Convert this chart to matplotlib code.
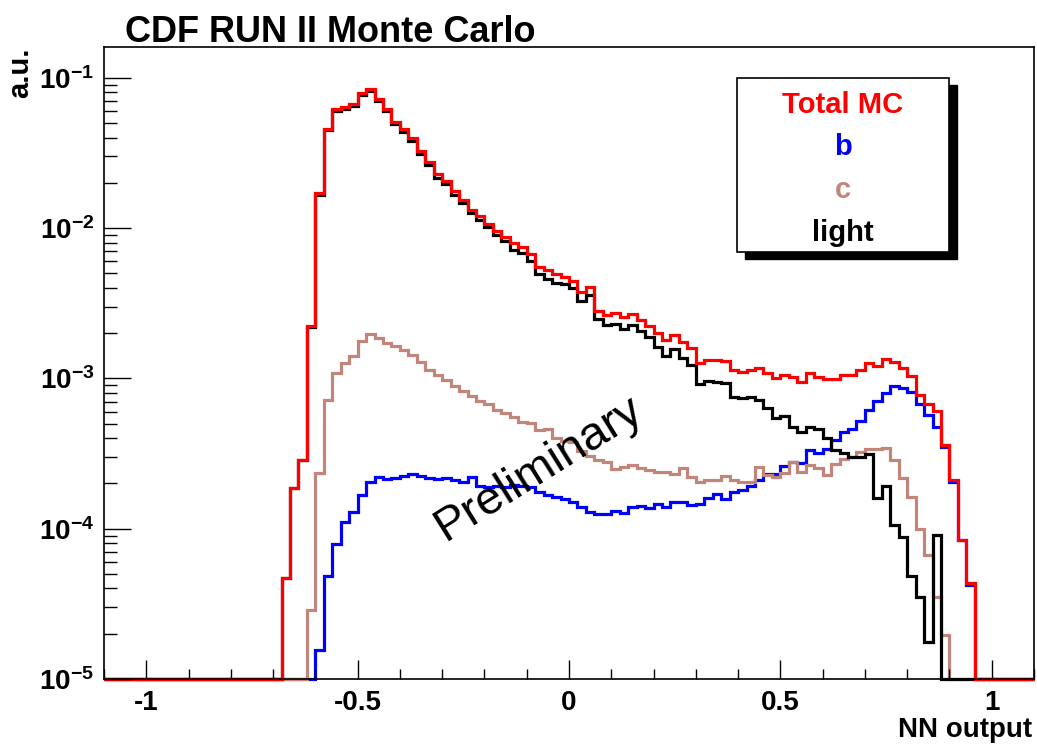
import matplotlib.pyplot as plt
import numpy as np
from matplotlib.patches import Rectangle
from matplotlib.ticker import MultipleLocator, LogLocator, NullFormatter

plt.rcParams['font.family'] = ['Liberation Sans', 'DejaVu Sans']
plt.rcParams['mathtext.fontset'] = 'custom'
plt.rcParams['mathtext.rm'] = 'Liberation Sans'
plt.rcParams['mathtext.bf'] = 'Liberation Sans:bold'

# NN output histograms: 110 bins of width 0.02 on [-1.1, 1.1]
edges = np.linspace(-1.1, 1.1, 111)
first_bin = 21  # bin starting at -0.68; lists below run from -0.68 to 0.94

total_mc = [
    4.70e-5, 1.87e-4, 2.86e-4, 2.23e-3, 0.0171,
    0.0459, 0.0615, 0.0640, 0.0673, 0.0785,
    0.0835, 0.0716, 0.0615, 0.0508, 0.0453,
    0.0394, 0.0326, 0.0275, 0.0227, 0.0206,
    0.0176, 0.0153, 0.0132, 0.0120, 0.0107,
    0.00953, 0.00873, 0.00791, 0.00750, 0.00667,
    0.00552, 0.00525, 0.00491, 0.00474, 0.00444,
    0.00377, 0.00403, 0.00281, 0.00264, 0.00270,
    0.00257, 0.00267, 0.00244, 0.00224, 0.00199,
    0.00180, 0.00194, 0.00175, 0.00158, 0.00127,
    0.00132, 0.00133, 0.00130, 0.00114, 0.00111,
    0.00114, 0.00118, 0.00109, 0.00101, 0.00105,
    0.00102, 9.45e-4, 0.00108, 0.00102, 9.90e-4,
    9.90e-4, 0.00105, 0.00105, 0.00114, 0.00126,
    0.00121, 0.00134, 0.00129, 0.00118, 0.00104,
    7.74e-4, 6.71e-4, 6.07e-4, 3.60e-4, 2.11e-4,
    8.41e-5, 4.34e-5,
]

b_jets = [
    0, 0, 0, 0, 1.56e-5,
    4.85e-5, 7.91e-5, 1.10e-4, 1.30e-4, 1.67e-4,
    2.05e-4, 2.22e-4, 2.13e-4, 2.18e-4, 2.24e-4,
    2.30e-4, 2.25e-4, 2.16e-4, 2.13e-4, 2.17e-4,
    2.12e-4, 2.04e-4, 2.21e-4, 1.92e-4, 1.88e-4,
    1.92e-4, 1.88e-4, 1.95e-4, 1.92e-4, 1.88e-4,
    1.76e-4, 1.67e-4, 1.63e-4, 1.57e-4, 1.51e-4,
    1.39e-4, 1.30e-4, 1.25e-4, 1.25e-4, 1.32e-4,
    1.28e-4, 1.39e-4, 1.41e-4, 1.37e-4, 1.46e-4,
    1.40e-4, 1.50e-4, 1.51e-4, 1.44e-4, 1.46e-4,
    1.59e-4, 1.70e-4, 1.57e-4, 1.76e-4, 1.81e-4,
    1.92e-4, 2.11e-4, 2.31e-4, 2.31e-4, 2.61e-4,
    2.79e-4, 2.75e-4, 3.33e-4, 3.18e-4, 3.39e-4,
    3.89e-4, 4.42e-4, 4.58e-4, 5.20e-4, 6.15e-4,
    7.06e-4, 7.94e-4, 8.89e-4, 8.57e-4, 8.15e-4,
    6.70e-4, 5.70e-4, 4.78e-4, 3.48e-4, 2.05e-4,
    8.41e-5, 4.23e-5,
]

c_jets = [
    0, 0, 0, 2.88e-5, 2.33e-4,
    7.18e-4, 1.08e-3, 1.26e-3, 1.41e-3, 1.78e-3,
    1.96e-3, 1.85e-3, 1.73e-3, 1.65e-3, 1.54e-3,
    1.44e-3, 1.29e-3, 1.14e-3, 1.05e-3, 9.75e-4,
    8.89e-4, 8.24e-4, 7.62e-4, 7.10e-4, 6.75e-4,
    6.15e-4, 5.85e-4, 5.56e-4, 5.14e-4, 5.02e-4,
    4.53e-4, 4.57e-4, 3.99e-4, 3.83e-4, 3.79e-4,
    3.30e-4, 3.04e-4, 2.86e-4, 2.79e-4, 2.49e-4,
    2.57e-4, 2.65e-4, 2.54e-4, 2.46e-4, 2.37e-4,
    2.39e-4, 2.31e-4, 2.52e-4, 2.22e-4, 2.05e-4,
    2.11e-4, 2.11e-4, 2.24e-4, 2.11e-4, 2.05e-4,
    2.03e-4, 2.58e-4, 2.28e-4, 2.22e-4, 2.33e-4,
    2.79e-4, 2.39e-4, 2.65e-4, 2.52e-4, 2.26e-4,
    2.69e-4, 2.89e-4, 2.98e-4, 3.25e-4, 3.39e-4,
    3.39e-4, 3.43e-4, 2.86e-4, 2.18e-4, 1.63e-4,
    9.95e-5, 6.68e-5, 3.53e-5, 1.96e-5, 0,
    0, 0,
]

light_jets = [
    4.70e-5, 1.87e-4, 2.86e-4, 2.20e-3, 0.0166,
    0.0447, 0.0598, 0.0620, 0.0652, 0.0763,
    0.0815, 0.0697, 0.0597, 0.0491, 0.0437,
    0.0379, 0.0313, 0.0262, 0.0216, 0.0195,
    0.0166, 0.0146, 0.0125, 0.0113, 0.0102,
    0.00897, 0.00818, 0.00713, 0.00678, 0.00605,
    0.00491, 0.00455, 0.00428, 0.00422, 0.00397,
    0.00327, 0.00358, 0.00248, 0.00225, 0.00229,
    0.00212, 0.00226, 0.00206, 0.00188, 0.00162,
    0.00141, 0.00156, 0.00136, 0.00123, 9.16e-4,
    9.66e-4, 9.48e-4, 9.26e-4, 7.55e-4, 7.36e-4,
    7.48e-4, 7.18e-4, 6.35e-4, 5.45e-4, 5.66e-4,
    4.77e-4, 4.37e-4, 4.77e-4, 4.60e-4, 4.04e-4,
    3.33e-4, 3.17e-4, 2.98e-4, 2.98e-4, 3.14e-4,
    1.59e-4, 1.92e-4, 1.06e-4, 8.85e-5, 4.85e-5,
    3.50e-5, 1.75e-5, 9.08e-5, 0, 0,
    0, 0,
]

legend_labels = ['Total MC', 'b', 'c', 'light']
colors = {'Total MC': '#ff0000', 'b': '#0000ff', 'c': '#c2857a', 'light': '#000000'}
ymin, ymax = 1e-5, 0.16


def full_hist(vals):
    h = np.zeros(len(edges) - 1)
    h[first_bin:first_bin + len(vals)] = vals
    return h


W, H = 1037, 745


def px(x, y):
    """pixel position (from top-left) -> figure fraction"""
    return x / W, 1 - y / H


fig = plt.figure(figsize=(W / 100, H / 100), dpi=100)
ax = fig.add_axes([104 / W, 1 - 679 / H, 930 / W, 632 / H])
ax.set_yscale('log')

# empty bins sit on the frame floor, as ROOT draws them on a log axis
for name, vals in [('b', b_jets), ('c', c_jets), ('light', light_jets), ('Total MC', total_mc)]:
    h = np.clip(full_hist(vals), ymin, None)
    ax.stairs(h, edges, baseline=None, color=colors[name], linewidth=2.3, clip_on=False)

ax.set_xlim(-1.1, 1.1)
ax.set_ylim(ymin, ymax)

ax.set_xticks([-1, -0.5, 0, 0.5, 1], labels=['-1', '-0.5', '0', '0.5', '1'])
ax.xaxis.set_minor_locator(MultipleLocator(0.1))
decades = [1e-5, 1e-4, 1e-3, 1e-2, 1e-1]
ax.set_yticks(decades, labels=[r'$\mathbf{10^{%d}}$' % np.log10(d) for d in decades])
ax.yaxis.set_minor_locator(LogLocator(base=10, subs=np.arange(2, 10)))
ax.yaxis.set_minor_formatter(NullFormatter())

ax.tick_params(axis='both', which='both', direction='in', top=False, right=False, width=1.0)
ax.tick_params(axis='x', which='major', length=13.5, pad=8, labelsize=20)
ax.tick_params(axis='x', which='minor', length=7)
ax.tick_params(axis='y', which='major', length=19.5, pad=7, labelsize=20)
ax.tick_params(axis='y', which='minor', length=9.5)
for lab in ax.get_xticklabels():
    lab.set_fontweight('bold')
for sp in ax.spines.values():
    sp.set_linewidth(1.2)

fig.text(*px(125, 42), 'CDF RUN II Monte Carlo', fontsize=26, fontweight='bold',
         ha='left', va='baseline')
fig.text(*px(34, 47), 'a.u.', fontsize=21, fontweight='bold', rotation=90,
         ha='right', va='top')
fig.text(*px(1032, 737), 'NN output', fontsize=20, fontweight='bold',
         ha='right', va='baseline')
fig.text(*px(538, 469), 'Preliminary', fontsize=34, rotation=32,
         rotation_mode='anchor', ha='center', va='center')

# legend box with drop shadow
x0, y0 = px(737, 252)
bw, bh = 212 / W, 174 / H
fig.add_artist(Rectangle((x0 + 8 / W, y0 - 7 / H), bw, bh, transform=fig.transFigure,
                         facecolor='black', edgecolor='black', zorder=5))
fig.add_artist(Rectangle((x0, y0), bw, bh, transform=fig.transFigure,
                         facecolor='white', edgecolor='black', linewidth=1.2, zorder=6))
for name, ybase in zip(legend_labels, [113, 155, 198, 241]):
    fig.text(*px(843, ybase), name, color=colors[name], fontsize=21, fontweight='bold',
             ha='center', va='baseline', zorder=7)

fig.savefig('out.png', dpi=100)
